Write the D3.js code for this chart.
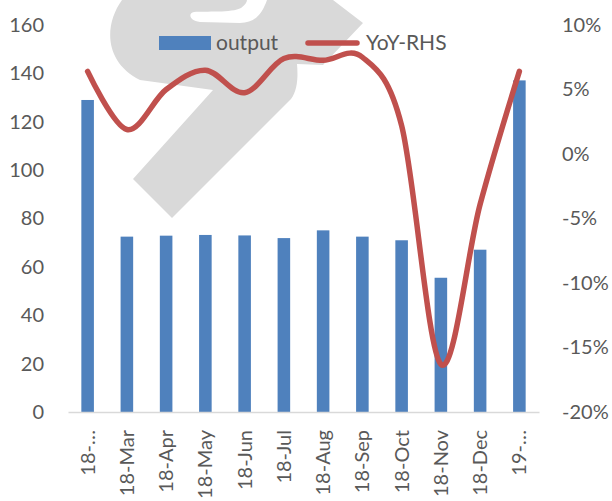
<!DOCTYPE html>
<html>
<head>
<meta charset="utf-8">
<script src="https://cdn.jsdelivr.net/npm/d3@7/dist/d3.min.js"></script>
<style>
  html, body { margin: 0; padding: 0; background: #fff; }
  svg text { font-family: Lato, "Open Sans", sans-serif; fill: #595959; }
</style>
</head>
<body>
<div id="chart"></div>
<script>
// chart values
var categories = ['18-…', '18-Mar', '18-Apr', '18-May', '18-Jun', '18-Jul',
                  '18-Aug', '18-Sep', '18-Oct', '18-Nov', '18-Dec', '19-…'];
var output = [129.0, 72.5, 72.9, 73.2, 73.0, 71.9, 75.1, 72.5, 71.0, 55.5, 67.1, 137.1];
var yoy = [0.064, 0.019, 0.050, 0.065, 0.0475, 0.074, 0.0726, 0.075, 0.022, -0.163, -0.039, 0.064];
var leftTicks = [0, 20, 40, 60, 80, 100, 120, 140, 160];
var rightTicks = [-0.20, -0.15, -0.10, -0.05, 0, 0.05, 0.10];
var seriesNames = ['output', 'YoY-RHS'];

var fullWidth = 612;
var fullHeight = 501;
var plot = {left: 68, right: 539, top: 25, bottom: 412};

var barColor = '#4f81bd';
var lineColor = '#c0504d';

var svg = d3.select('#chart')
  .append('svg')
    .attr('width', fullWidth)
    .attr('height', fullHeight);

// grey logo watermark behind the chart
svg.append('path')
  .attr('d', 'M122,0 C104,25 104,62 140,80 L213,90 L133,179 L172,218 L291,99 ' +
             'C298,90 298,75 297,64 L323,65 L363,23 L333,0 L267,0 ' +
             'C262,14 255,23 240,23 L200,22 C189,21 188,13 194,12 ' +
             'C205,11 232,13 241,8 C245,5 247,2 247,0 Z')
  .attr('fill', '#d9d9d9');

var x = d3.scaleBand().domain(categories).range([plot.left, plot.right]).padding(0);
var yLeft = d3.scaleLinear().domain([0, 160]).range([plot.bottom, plot.top]);
var yRight = d3.scaleLinear().domain([-0.2, 0.1]).range([plot.bottom, plot.top]);

function pct(d) {
  var v = Math.round(d * 100);
  return (v === 0 ? 0 : v) + '%';
}

// left axis
var leftAxis = svg.append('g')
  .attr('transform', 'translate(' + plot.left + ',0)')
  .call(d3.axisLeft(yLeft).tickValues(leftTicks).tickSize(0).tickPadding(24));
leftAxis.select('.domain').remove();

// right axis
var rightAxis = svg.append('g')
  .attr('transform', 'translate(' + plot.right + ',0)')
  .call(d3.axisRight(yRight).tickValues(rightTicks).tickFormat(pct).tickSize(0).tickPadding(23));
rightAxis.select('.domain').remove();

svg.selectAll('.tick text')
  .style('font-size', '20px')
  .style('fill', '#595959');

// bars
var barW = x.bandwidth() * 0.32;
svg.selectAll('.bar')
  .data(output)
  .enter().append('rect')
    .attr('class', 'bar')
    .attr('x', function(d, i) { return x(categories[i]) + (x.bandwidth() - barW) / 2; })
    .attr('y', function(d) { return yLeft(d); })
    .attr('width', barW)
    .attr('height', function(d) { return plot.bottom - yLeft(d); })
    .attr('fill', barColor);

// bottom axis
var bottomAxis = svg.append('g')
  .attr('transform', 'translate(0,' + plot.bottom + ')')
  .call(d3.axisBottom(x).tickSize(0).tickSizeOuter(0));
bottomAxis.select('.domain')
  .attr('stroke', '#d9d9d9')
  .attr('stroke-width', 1.5);
bottomAxis.selectAll('text')
  .attr('y', 0)
  .attr('x', -18)
  .attr('dy', '0.35em')
  .attr('transform', 'rotate(-90)')
  .style('text-anchor', 'end')
  .style('font-size', '20px')
  .style('fill', '#595959');

// YoY line (smoothed)
var line = d3.line()
  .x(function(d, i) { return x(categories[i]) + x.bandwidth() / 2; })
  .y(function(d) { return yRight(d); })
  .curve(d3.curveCatmullRom.alpha(0));

svg.append('path')
  .datum(yoy)
  .attr('fill', 'none')
  .attr('stroke', lineColor)
  .attr('stroke-width', 5.5)
  .attr('stroke-linecap', 'round')
  .attr('stroke-linejoin', 'round')
  .attr('d', line);

// legend
var legend = svg.append('g').attr('class', 'legend');
legend.append('rect')
  .attr('x', 159).attr('y', 36)
  .attr('width', 52).attr('height', 14)
  .attr('fill', barColor);
legend.append('text')
  .attr('x', 216).attr('y', 43)
  .attr('dy', '0.35em')
  .style('font-size', '21px')
  .text(seriesNames[0]);
legend.append('line')
  .attr('x1', 308).attr('x2', 357)
  .attr('y1', 43).attr('y2', 43)
  .attr('stroke', lineColor)
  .attr('stroke-width', 5.5)
  .attr('stroke-linecap', 'round');
legend.append('text')
  .attr('x', 366).attr('y', 43)
  .attr('dy', '0.35em')
  .style('font-size', '21px')
  .text(seriesNames[1]);
</script>
</body>
</html>
